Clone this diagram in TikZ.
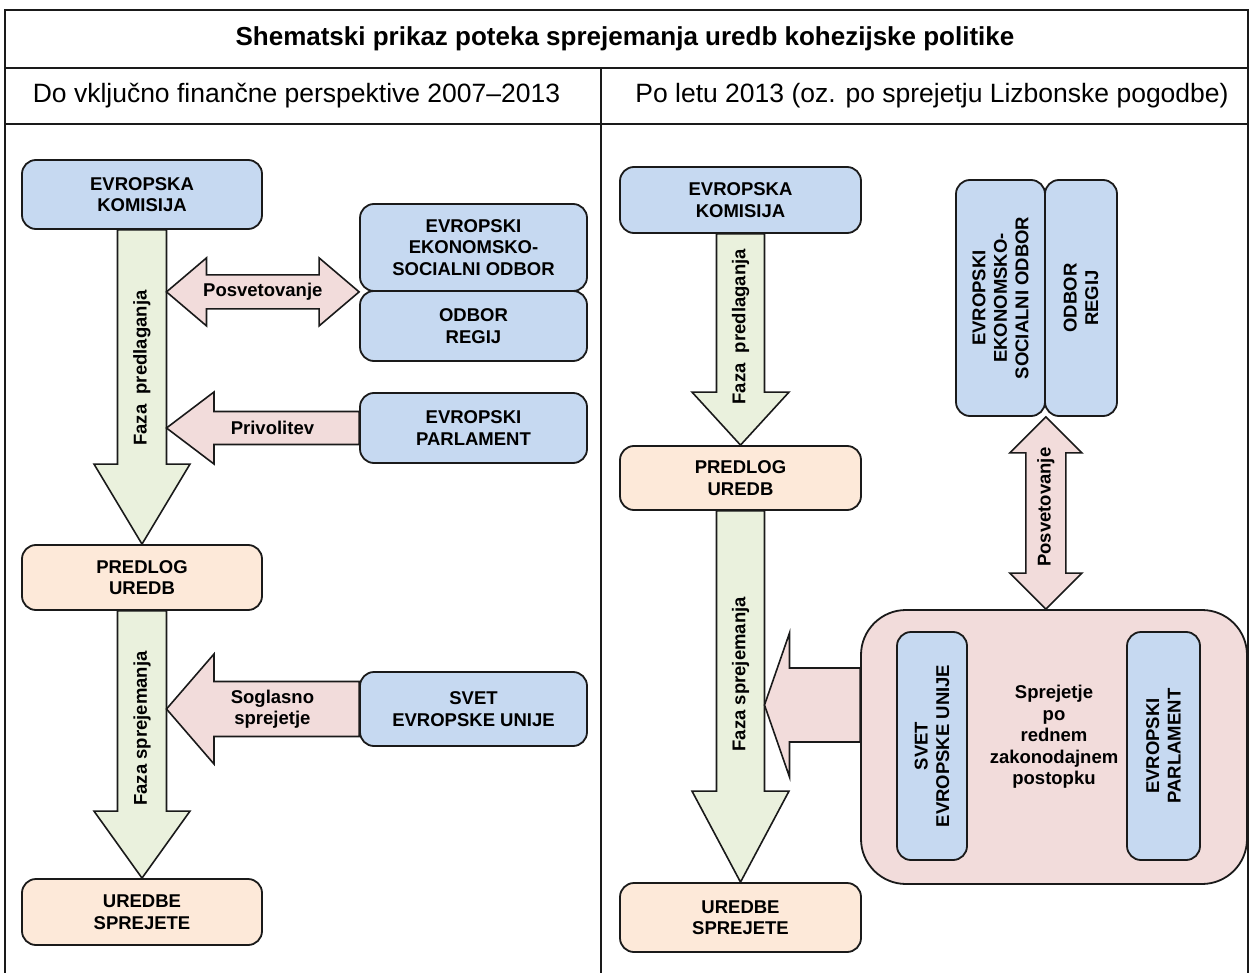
\documentclass[tikz,border=0pt]{standalone}
\usepackage{fontspec}
\setmainfont{Liberation Sans}
\usetikzlibrary{calc}
\definecolor{bluef}{HTML}{C6D9F1}
\definecolor{pinkf}{HTML}{F2DCDB}
\definecolor{greenf}{HTML}{EAF1DD}
\definecolor{peachf}{HTML}{FDE9D9}
\definecolor{linec}{HTML}{1A1A1A}
\newcommand\boxfont{\fontsize{18.5}{21.5}\selectfont\bfseries}
% style, top point, tip, shaft half width, head half width, head length
\newcommand\dnblock[6]{%
 \draw[#1] ($(#2)+(-#4,0)$) -- ($(#3)+(-#4,-#6)$) -- ($(#3)+(-#5,-#6)$) -- (#3) -- ($(#3)+(#5,-#6)$) -- ($(#3)+(#4,-#6)$) -- ($(#2)+(#4,0)$) -- cycle;}
% style, start (right end), tip, shaft hw, head hw, head len
\newcommand\lfblock[6]{%
 \draw[#1] ($(#2)+(0,-#4)$) -- ($(#3)+(#6,-#4)$) -- ($(#3)+(#6,-#5)$) -- (#3) -- ($(#3)+(#6,#5)$) -- ($(#3)+(#6,#4)$) -- ($(#2)+(0,#4)$) -- cycle;}
% style, left tip, right tip, shaft hw, head hw, head len
\newcommand\hdblock[6]{%
 \draw[#1] (#2) -- ($(#2)+(#6,-#5)$) -- ($(#2)+(#6,-#4)$) -- ($(#3)+(-#6,-#4)$) -- ($(#3)+(-#6,-#5)$) -- (#3) -- ($(#3)+(-#6,#5)$) -- ($(#3)+(-#6,#4)$) -- ($(#2)+(#6,#4)$) -- ($(#2)+(#6,#5)$) -- cycle;}
% style, top tip, bottom tip, shaft hw, head hw, head len
\newcommand\vdblock[6]{%
 \draw[#1] (#2) -- ($(#2)+(#5,#6)$) -- ($(#2)+(#4,#6)$) -- ($(#3)+(#4,-#6)$) -- ($(#3)+(#5,-#6)$) -- (#3) -- ($(#3)+(-#5,-#6)$) -- ($(#3)+(-#4,-#6)$) -- ($(#2)+(-#4,#6)$) -- ($(#2)+(-#5,#6)$) -- cycle;}
\tikzset{
 box/.style={draw=linec, line width=1.8pt, rounded corners=14pt, align=center, inner sep=0pt, font=\boxfont},
 bluebox/.style={box, fill=bluef},
 peachbox/.style={box, fill=peachf},
 txt/.style={align=center, inner sep=0pt, font=\boxfont},
 greenarrow/.style={draw=linec, line width=1.6pt, fill=greenf, line join=miter},
 pinkarrow/.style={draw=linec, line width=1.6pt, fill=pinkf, line join=miter},
 frame/.style={draw=linec, line width=1.8pt},
}
\begin{document}
\begin{tikzpicture}[x=1pt, y=-1pt]
\useasboundingbox[fill=white] (0,0) rectangle (1250,973);
% table frame
\draw[frame] (5,975) -- (5,10) -- (1248,10) -- (1248,975);
\draw[frame] (5,68) -- (1248,68);
\draw[frame] (5,124) -- (1248,124);
\draw[frame] (601,68) -- (601,975);
\node[font=\fontsize{26}{30}\selectfont\bfseries, inner sep=0pt] (title) at (625,39) {Shematski prikaz poteka sprejemanja uredb kohezijske politike};
\node[font=\fontsize{26.5}{30}\selectfont, inner sep=0pt] (subL) at (296.5,96) {Do vključno finančne perspektive 2007–2013};
\node[font=\fontsize{26.5}{30}\selectfont, inner sep=0pt] (subR) at (932,96) {Po letu 2013 (oz. po sprejetju Lizbonske pogodbe)};

% ---------- left panel ----------
\node[bluebox, minimum width=240pt, minimum height=69pt] (ekL) at (142,194.5) {EVROPSKA\\KOMISIJA};
\node[bluebox, minimum width=227pt, minimum height=87pt] (esL) at (473.5,247.5) {EVROPSKI\\EKONOMSKO-\\SOCIALNI ODBOR};
\node[bluebox, minimum width=227pt, minimum height=70pt] (orL) at (473.5,326) {ODBOR\\REGIJ};
\node[bluebox, minimum width=227pt, minimum height=70pt] (epL) at (473.5,428) {EVROPSKI\\PARLAMENT};
\node[peachbox, minimum width=240pt, minimum height=65pt] (prL) at (142,577.5) {PREDLOG\\UREDB};
\node[bluebox, minimum width=227pt, minimum height=74pt] (svL) at (473.5,709) {SVET\\EVROPSKE UNIJE};
\node[peachbox, minimum width=240pt, minimum height=66pt] (urL) at (142,912) {UREDBE\\SPREJETE};

\coordinate (shL1) at ($(ekL.south)+(24.5,0)$);
\coordinate (shL2) at ($(prL.south)+(24.5,0)$);
\coordinate (posL) at (shL1 |- esL.south west);
\coordinate (priL) at (shL1 |- epL.west);
\coordinate (sogL) at (shL2 |- svL.west);

\dnblock{greenarrow}{ekL.south}{prL.north}{24.5}{48}{80}
\dnblock{greenarrow}{prL.south}{urL.north}{24.5}{48}{67}
\hdblock{pinkarrow}{posL}{esL.south west}{17}{34}{40}
\lfblock{pinkarrow}{epL.west}{priL}{16.5}{36}{47.5}
\lfblock{pinkarrow}{svL.west}{sogL}{27.5}{55}{47.5}

\node[txt] (lposL) at ($(posL)!0.5!(esL.south west)$) {Posvetovanje};
\node[txt] (lpriL) at ($(priL)!0.55!(epL.west)$) {Privolitev};
\node[txt] (lsogL) at ($(sogL)!0.55!(svL.west)$) {Soglasno\\sprejetje};
\node[txt, rotate=90] (fpL) at ($(ekL.south)!0.44!(prL.north)$) {Faza\ \ predlaganja};
\node[txt, rotate=90] (fsL) at ($(prL.south)!0.44!(urL.north)$) {Faza sprejemanja};

% ---------- right panel ----------
\node[bluebox, minimum width=241pt, minimum height=66pt] (ekR) at (740.5,200) {EVROPSKA\\KOMISIJA};
\node[bluebox, minimum width=89pt, minimum height=236pt] (esR) at (1000.5,298) {};
\node[bluebox, minimum width=72pt, minimum height=236pt] (orR) at (1081,298) {};
\node[txt, rotate=90] (tesR) at (esR.center) {EVROPSKI\\EKONOMSKO-\\SOCIALNI ODBOR};
\node[txt, rotate=90] (torR) at (orR.center) {ODBOR\\REGIJ};
\node[peachbox, minimum width=241pt, minimum height=64pt] (prR) at (740.5,478) {PREDLOG\\UREDB};
\node[box, fill=pinkf, rounded corners=45pt, minimum width=386pt, minimum height=274pt] (big) at (1054,747) {};
\node[bluebox, minimum width=70pt, minimum height=228pt] (svR) at (932,746) {};
\node[bluebox, minimum width=73pt, minimum height=228pt] (epR) at (1163.5,746) {};
\node[txt, rotate=90] (tsvR) at (svR.center) {SVET\\EVROPSKE UNIJE};
\node[txt, rotate=90] (tepR) at (epR.center) {EVROPSKI\\PARLAMENT};
\node[txt] (tbig) at ($(big.center)+(0,-10)$) {Sprejetje\\po\\rednem\\zakonodajnem\\postopku};
\node[peachbox, minimum width=241pt, minimum height=69pt] (urR) at (740.5,917.5) {UREDBE\\SPREJETE};

\coordinate (shR2) at ($(prR.south)+(24,0)$);
\coordinate (bigS) at ($(big.west)+(0,-42)$);
\coordinate (bigT) at (shR2 |- bigS);
\coordinate (posRt) at (esR.south east);
\coordinate (posRb) at (esR.south east |- big.north);

\dnblock{greenarrow}{ekR.south}{prR.north}{24}{48.5}{53}
\dnblock{greenarrow}{prR.south}{urR.north}{24}{48.5}{91}
\vdblock{pinkarrow}{posRt}{posRb}{20}{36}{36}
\lfblock{pinkarrow}{bigS}{bigT}{37}{72}{25}

\node[txt, rotate=90] (lposR) at ($(posRt)!0.47!(posRb)$) {Posvetovanje};
\node[txt, rotate=90] (fpR) at ($(ekR.south)!0.44!(prR.north)$) {Faza\ \ predlaganja};
\node[txt, rotate=90] (fsR) at ($(prR.south)!0.44!(urR.north)$) {Faza sprejemanja};
\end{tikzpicture}
\end{document}
